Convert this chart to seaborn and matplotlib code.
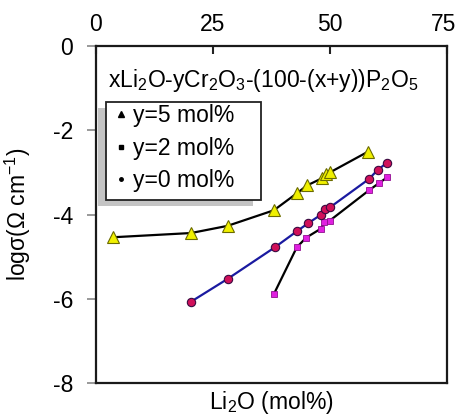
import matplotlib
matplotlib.use("Agg")
import matplotlib.pyplot as plt
import matplotlib.transforms as mtransforms
from matplotlib.lines import Line2D
from matplotlib.patches import Rectangle
import seaborn as sns
import pandas as pd

# ---- data ----
x_y5 = [3.7, 20.3, 28.1, 38.0, 43.0, 45.1, 48.3, 49.2, 50.0, 58.1]
s_y5 = [-4.54, -4.44, -4.27, -3.90, -3.49, -3.31, -3.14, -3.04, -3.00, -2.51]

x_y2 = [38.0, 42.9, 44.9, 48.0, 48.8, 49.9, 58.4, 60.4, 62.2]
s_y2 = [-5.89, -4.78, -4.55, -4.34, -4.18, -4.15, -3.42, -3.26, -3.12]

x_y0 = [20.3, 28.1, 38.2, 42.9, 45.3, 48.0, 49.0, 50.0, 58.3, 60.2, 62.2]
s_y0 = [-6.07, -5.53, -4.78, -4.40, -4.21, -4.01, -3.87, -3.83, -3.16, -2.94, -2.77]

legend_labels = ["y=5 mol%", "y=2 mol%", "y=0 mol%"]
x_ticks = [0, 25, 50, 75]
y_ticks = [0, -2, -4, -6, -8]

sns.set_style("white")
plt.rcParams["font.family"] = ["Liberation Sans", "DejaVu Sans"]
plt.rcParams["mathtext.fontset"] = "custom"
plt.rcParams["mathtext.rm"] = "Liberation Sans"
plt.rcParams["mathtext.it"] = "Liberation Sans"
plt.rcParams["mathtext.default"] = "regular"
plt.rcParams["axes.unicode_minus"] = False
plt.rcParams["text.color"] = "black"
plt.rcParams["axes.labelcolor"] = "black"
plt.rcParams["xtick.labelcolor"] = "black"
plt.rcParams["ytick.labelcolor"] = "black"

FS = 16.5
W, H = 457, 417
fig = plt.figure(figsize=(W / 100, H / 100), dpi=100)
ax = fig.add_axes([96 / W, 1 - 383 / H, 351 / W, 337 / H])

df5 = pd.DataFrame({"x": x_y5, "s": s_y5})
df2 = pd.DataFrame({"x": x_y2, "s": s_y2})
df0 = pd.DataFrame({"x": x_y0, "s": s_y0})

sns.lineplot(data=df5, x="x", y="s", ax=ax, sort=False, color="black", lw=1.6,
             marker="^", markersize=8, markerfacecolor="#f0f000",
             markeredgecolor="#6b6b00", markeredgewidth=0.8, legend=False, zorder=3)
sns.lineplot(data=df2, x="x", y="s", ax=ax, sort=False, color="black", lw=1.6,
             marker="s", markersize=4.8, markerfacecolor="#e020e0",
             markeredgecolor="#901090", markeredgewidth=0.6, legend=False, zorder=3)
sns.lineplot(data=df0, x="x", y="s", ax=ax, sort=False, color="#1a1aa0", lw=1.6,
             marker="o", markersize=6, markerfacecolor="#d0105a",
             markeredgecolor="#3a0a40", markeredgewidth=0.8, legend=False, zorder=4)

ax.set_xlim(0, 75)
ax.set_ylim(-8, 0)
ax.set_xticks(x_ticks)
ax.set_yticks(y_ticks)
ax.xaxis.tick_top()
ax.tick_params(axis="x", which="both", direction="in", length=6, width=1.5,
               color="#222222", labelsize=FS, pad=7, top=True, bottom=False)
ax.tick_params(axis="y", direction="out", length=6.5, width=1.2,
               color="#888888", labelsize=FS, pad=10, left=True, right=False)
for sp in ax.spines.values():
    sp.set_visible(True)
    sp.set_linewidth(1.6)
    sp.set_color("#1a1a1a")

# nudge the last top tick label so it stays inside the figure
last_lbl = ax.xaxis.get_major_ticks()[-1].label2
last_lbl.set_transform(last_lbl.get_transform() +
                       mtransforms.ScaledTranslation(-3 / 100, 0, fig.dpi_scale_trans))

ax.set_xlabel("Li$_2$O (mol%)", fontsize=FS, labelpad=4)
ax.set_ylabel("logσ(Ω cm$^{-1}$)", fontsize=FS)
ax.xaxis.set_label_position("bottom")
ax.yaxis.set_label_coords((33 - 96) / 351, 0.5)

ax.text(0.034, 0.878, "xLi$_2$O-yCr$_2$O$_3$-(100-(x+y))P$_2$O$_5$",
        transform=ax.transAxes, fontsize=FS, ha="left", va="baseline")

# legend frame with shadow
x0, x1 = (106 - 96) / 351, (261 - 96) / 351
y0, y1 = (383 - 200) / 337, (383 - 102) / 337
ax.add_patch(Rectangle((x0 - 8 / 351, y0 - 6 / 337), x1 - x0, y1 - y0,
                       transform=ax.transAxes, facecolor="#c4c4c4",
                       edgecolor="none", zorder=5))
ax.add_patch(Rectangle((x0, y0), x1 - x0, y1 - y0, transform=ax.transAxes,
                       facecolor="white", edgecolor="#222222", lw=1.3, zorder=6))

handles = [
    Line2D([], [], ls="none", marker="^", color="black", markersize=5),
    Line2D([], [], ls="none", marker="s", color="black", markersize=3.5),
    Line2D([], [], ls="none", marker="o", color="black", markersize=2.5),
]
leg = ax.legend(handles, legend_labels, loc="upper left",
                bbox_to_anchor=((112 - 96) / 351, (383 - 104) / 337),
                frameon=False, fontsize=FS, borderpad=0, borderaxespad=0,
                handlelength=0.8, handletextpad=0.1, labelspacing=0.42)
leg.set_zorder(7)

fig.savefig("out.png", dpi=100)
